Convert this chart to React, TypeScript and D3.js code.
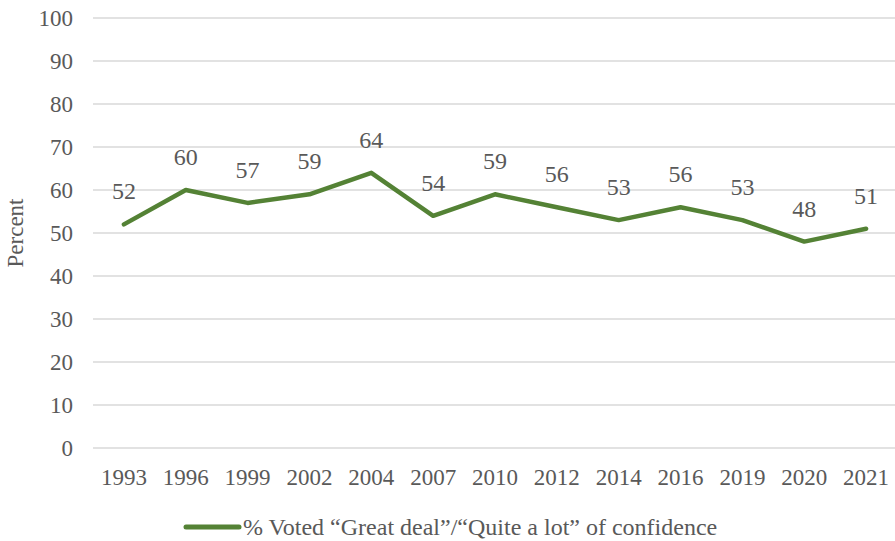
import React from "react";
import * as d3 from "d3";

const years = ["1993","1996","1999","2002","2004","2007","2010","2012","2014","2016","2019","2020","2021"];
const values = [52,60,57,59,64,54,59,56,53,56,53,48,51];
const yTicks = [0,10,20,30,40,50,60,70,80,90,100];
const seriesName = "% Voted \u201cGreat deal\u201d/\u201cQuite a lot\u201d of confidence";

export default function App() {
  const W = 895, H = 541;
  const left = 93, right = 897, top = 18, bottom = 448;
  const x = d3.scalePoint<string>().domain(years).range([left, right]).padding(0.5);
  const y = d3.scaleLinear().domain([0, 100]).range([bottom, top]);
  const line = d3.line<number>().x((_, i) => x(years[i])!).y(d => y(d));
  const font = "'Liberation Serif', 'Times New Roman', serif";
  const gray = "#595959";
  const green = "#548235";
  return (
    <svg width={W} height={H} style={{ position: "absolute", left: 0, top: 0 }}>
      <rect width={W} height={H} fill="#fff" />
      {yTicks.map(t => (
        <g key={t}>
          <line x1={left} x2={right} y1={y(t)} y2={y(t)} stroke="#d9d9d9" strokeWidth={1.5} />
          <text x={73} y={y(t) + 8} textAnchor="end" fontFamily={font} fontSize={23} fill={gray}>{t}</text>
        </g>
      ))}
      {years.map(yr => (
        <text key={yr} x={x(yr)} y={485} textAnchor="middle" fontFamily={font} fontSize={23} fill={gray}>{yr}</text>
      ))}
      <text transform={`translate(23,${(top + bottom) / 2}) rotate(-90)`} textAnchor="middle" fontFamily={font} fontSize={23} fill={gray}>Percent</text>
      <path d={line(values)!} fill="none" stroke={green} strokeWidth={4.5} strokeLinejoin="round" strokeLinecap="round" />
      {values.map((v, i) => (
        <text key={i} x={x(years[i])} y={y(v) - 25} textAnchor="middle" fontFamily={font} fontSize={24} fill={gray}>{v}</text>
      ))}
      <line x1={186} x2={239} y1={527} y2={527} stroke={green} strokeWidth={5} strokeLinecap="round" />
      <text x={243} y={535} fontFamily={font} fontSize={24} fill={gray}>{seriesName}</text>
    </svg>
  );
}
